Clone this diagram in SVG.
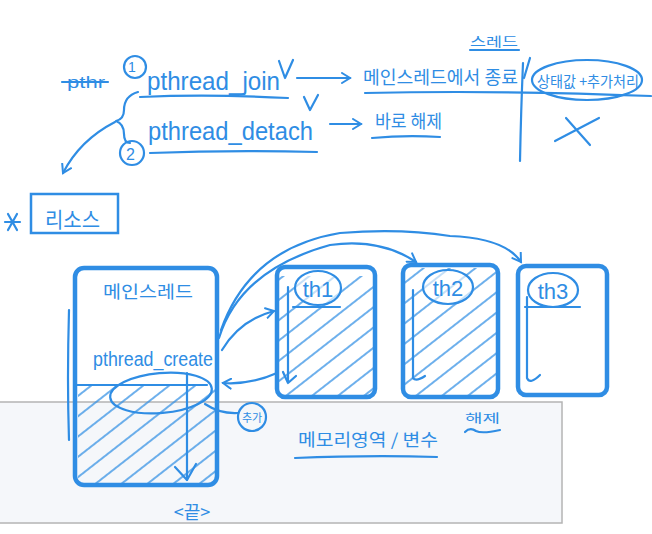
<svg xmlns="http://www.w3.org/2000/svg" width="652" height="534" viewBox="0 0 652 534">
<style>
.ink{fill:none;stroke:#2f8de4;stroke-width:2.2;stroke-linecap:round;stroke-linejoin:round}
.box{fill:none;stroke:#2f8de4;stroke-width:4.5}
.t{fill:#2f8de4;font-family:"Liberation Sans","Noto Sans CJK KR",sans-serif}
.k{fill:#2f8de4;font-family:"Noto Sans CJK KR",sans-serif}
.hatch{fill:url(#hp)}
</style>
<defs>
<pattern id="hp" patternUnits="userSpaceOnUse" width="16" height="16" patternTransform="rotate(-38)">
<path d="M0 8H16" stroke="#2f8de4" stroke-width="1.4"/>
</pattern>
<marker id="ah" markerWidth="12" markerHeight="12" refX="9" refY="6" orient="auto" markerUnits="userSpaceOnUse">
<path d="M1 1L9 6L1 11" fill="none" stroke="#2f8de4" stroke-width="2" stroke-linecap="round"/>
</marker>
<clipPath id="cmain"><rect x="78" y="386" width="137" height="97"/></clipPath>
<clipPath id="cth1"><rect x="279" y="276" width="94" height="119"/></clipPath>
<clipPath id="cth2"><rect x="405" y="268" width="91" height="127"/></clipPath>
</defs>
<rect width="652" height="534" fill="#ffffff"/>

<g id="memory-panel">
<rect x="-5" y="402" width="567" height="121" fill="#f5f7fa" stroke="#b4b4b4" stroke-width="1.5"/>
<text class="k" x="298" y="446" font-size="17" textLength="140" lengthAdjust="spacingAndGlyphs">메모리영역 / 변수</text>
<path class="ink" d="M295 458Q370 455 437 457"/>
<text class="k" x="465" y="423" font-size="12" textLength="35" lengthAdjust="spacingAndGlyphs">해제</text>
<path class="ink" d="M465 432Q470 427 476 431Q482 434 500 430"/>
</g>

<g id="header-notes">
<text class="t" x="67" y="88" font-size="16" textLength="38" lengthAdjust="spacingAndGlyphs">pthr</text>
<path class="ink" d="M62 82H108"/>
<circle class="ink" cx="135" cy="67" r="11"/>
<text class="t" x="128" y="72" font-size="14">1</text>
<text class="t" x="147" y="90" font-size="26" textLength="133" lengthAdjust="spacingAndGlyphs">pthread_join</text>
<path class="ink" d="M279 61L285 78L293 60"/>
<path class="ink" d="M140 97Q210 94 288 98"/>
<path class="ink" d="M304 97L310 110L318 95"/>
<path class="ink" d="M138 92Q124 96 124 110Q124 119 116 121Q124 124 124 134Q124 143 130 143"/>
<circle class="ink" cx="132" cy="153" r="12"/>
<text class="t" x="126" y="160" font-size="16">2</text>
<text class="t" x="148" y="140" font-size="25" textLength="165" lengthAdjust="spacingAndGlyphs">pthread_detach</text>
<path class="ink" d="M150 153Q230 150 317 152"/>
<text class="k" x="470" y="46" font-size="13" textLength="48" lengthAdjust="spacingAndGlyphs">스레드</text>
<path class="ink" d="M470 50H519"/>
<text class="k" x="363" y="84" font-size="18" textLength="155" lengthAdjust="spacingAndGlyphs">메인스레드에서  종료</text>
<path class="ink" d="M365 93Q500 90 651 96"/>
<path class="ink" d="M530 58L524 78"/>
<path class="ink" d="M523 63Q521 110 520 161"/>
<ellipse class="ink" cx="587" cy="80" rx="55" ry="20"/>
<text class="k" x="537" y="87" font-size="15" textLength="102" lengthAdjust="spacingAndGlyphs">상태값 +추가처리</text>
<text class="k" x="375" y="128" font-size="18" textLength="67" lengthAdjust="spacingAndGlyphs">바로 해제</text>
<path class="ink" d="M372 138Q405 135 440 137"/>
<path class="ink" d="M555 141L599 118M566 118L590 145"/>
</g>

<g id="resource">
<path class="ink" d="M5 222H20M8 214L17 230M17 214L8 230"/>
<rect x="31" y="194" width="87" height="39" fill="none" stroke="#2f8de4" stroke-width="2.5"/>
<text class="k" x="45" y="227" font-size="21" textLength="55" lengthAdjust="spacingAndGlyphs">리소스</text>
</g>

<g id="main-thread">
<rect class="hatch" x="78" y="386" width="137" height="97" clip-path="url(#cmain)"/>
<rect class="box" x="75" y="268" width="142" height="217" rx="9"/>
<path class="ink" d="M69 310Q67 380 69 440"/>
<text class="k" x="103" y="298" font-size="17" textLength="90" lengthAdjust="spacingAndGlyphs">메인스레드</text>
<text class="t" x="93" y="366" font-size="20" textLength="120" lengthAdjust="spacingAndGlyphs">pthread_create</text>
<path class="ink" d="M77 385H207"/>
<ellipse class="ink" cx="161" cy="393" rx="51" ry="20" transform="rotate(-5 161 393)"/>
<path class="ink" d="M187 373V480"/>
<path class="ink" d="M175 467L187 480L196 464"/>
<text class="k" x="192" y="519" font-size="18" text-anchor="middle">&lt;끝&gt;</text>
</g>

<g id="extra">
<circle class="ink" cx="252" cy="417" r="14"/>
<text class="k" x="252" y="422" font-size="11" text-anchor="middle">추가</text>
</g>

<g id="th1">
<rect class="hatch" x="279" y="276" width="94" height="119" clip-path="url(#cth1)"/>
<rect class="box" x="277" y="267" width="98" height="130" rx="8"/>
<ellipse cx="318" cy="288" rx="23" ry="17" fill="#ffffff" fill-opacity="0.6" stroke="#2f8de4" stroke-width="2.2"/>
<text class="t" x="318" y="297" font-size="22" text-anchor="middle">th1</text>
<path class="ink" d="M293 307H340"/>
<path class="ink" d="M288 287V383M283 372L288 383L296 376"/>
</g>

<g id="th2">
<rect class="hatch" x="405" y="268" width="91" height="127" clip-path="url(#cth2)"/>
<rect class="box" x="403" y="265" width="95" height="132" rx="8"/>
<ellipse cx="448" cy="287" rx="25" ry="17" fill="#ffffff" fill-opacity="0.6" stroke="#2f8de4" stroke-width="2.2"/>
<text class="t" x="448" y="296" font-size="22" text-anchor="middle">th2</text>
<path class="ink" d="M413 290V378Q416 382 425 376"/>
</g>

<g id="th3">
<rect class="box" x="518" y="266" width="89" height="129" rx="8"/>
<ellipse class="ink" cx="553" cy="290" rx="25" ry="17"/>
<text class="t" x="553" y="299" font-size="22" text-anchor="middle">th3</text>
<path class="ink" d="M525 307H580"/>
<path class="ink" d="M527 297V378Q530 385 540 375"/>
</g>

<g id="connectors">
<path class="ink" d="M297 78H350" marker-end="url(#ah)"/>
<path class="ink" d="M330 124H361" marker-end="url(#ah)"/>
<path class="ink" d="M115 122Q80 140 63 173" marker-end="url(#ah)"/>
<path class="ink" d="M222 350Q240 320 274 311" marker-end="url(#ah)"/>
<path class="ink" d="M277 373Q250 385 223 383" marker-end="url(#ah)"/>
<path class="ink" d="M219 338Q240 270 330 245Q380 238 416 262" marker-end="url(#ah)"/>
<path class="ink" d="M221 330Q250 248 340 233Q400 228 450 236Q505 238 521 262" marker-end="url(#ah)"/>
<path class="ink" d="M205 404Q220 414 238 413"/>
</g>
</svg>
